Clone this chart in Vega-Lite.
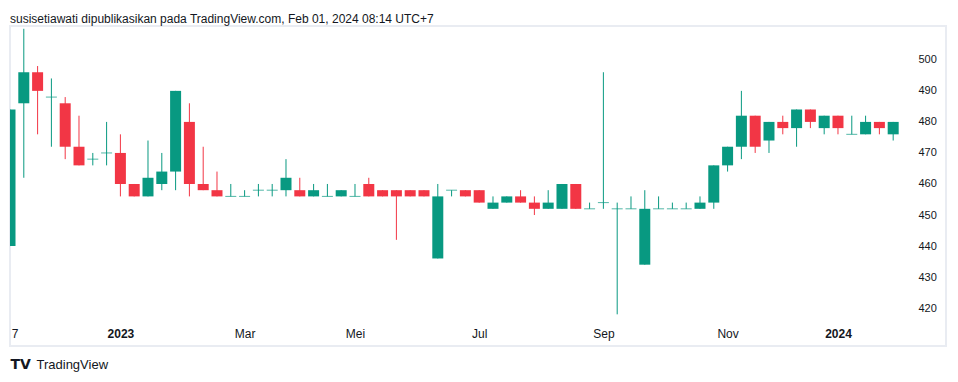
{
  "$schema": "https://vega.github.io/schema/vega-lite/v6.json",
  "autosize": {"type": "none"},
  "padding": {"left": 10, "top": 26, "right": 12, "bottom": 36},
  "width": 936,
  "height": 320,
  "background": "#ffffff",
  "title": {
    "text": "susisetiawati dipublikasikan pada TradingView.com, Feb 01, 2024 08:14 UTC+7",
    "anchor": "start",
    "frame": "group",
    "offset": 7,
    "dy": 16,
    "baseline": "alphabetic",
    "font": "Liberation Sans, Arial, sans-serif",
    "fontSize": 12,
    "fontWeight": "normal",
    "color": "#131722"
  },
  "config": {
    "view": {"stroke": "#e9ecf2", "strokeWidth": 2},
    "axis": {"grid": false, "domain": false, "ticks": false, "tickSize": 0}
  },
  "data": {
    "values": [
      {"date": "2022-11-07", "open": 440, "high": 484, "low": 440, "close": 484},
      {"date": "2022-11-14", "open": 486, "high": 510, "low": 462, "close": 496},
      {"date": "2022-11-21", "open": 496, "high": 498, "low": 476, "close": 490},
      {"date": "2022-11-28", "open": 488, "high": 494, "low": 472, "close": 488},
      {"date": "2022-12-05", "open": 486, "high": 488, "low": 468, "close": 472},
      {"date": "2022-12-12", "open": 472, "high": 482, "low": 466, "close": 466},
      {"date": "2022-12-19", "open": 468, "high": 470, "low": 466, "close": 468},
      {"date": "2022-12-26", "open": 470, "high": 480, "low": 466, "close": 470},
      {"date": "2023-01-02", "open": 470, "high": 476, "low": 456, "close": 460},
      {"date": "2023-01-09", "open": 460, "high": 460, "low": 456, "close": 456},
      {"date": "2023-01-16", "open": 456, "high": 474, "low": 456, "close": 462},
      {"date": "2023-01-23", "open": 460, "high": 470, "low": 458, "close": 464},
      {"date": "2023-01-30", "open": 464, "high": 490, "low": 458, "close": 490},
      {"date": "2023-02-06", "open": 480, "high": 486, "low": 456, "close": 460},
      {"date": "2023-02-13", "open": 460, "high": 472, "low": 458, "close": 458},
      {"date": "2023-02-20", "open": 458, "high": 464, "low": 456, "close": 456},
      {"date": "2023-02-27", "open": 456, "high": 460, "low": 456, "close": 456},
      {"date": "2023-03-06", "open": 456, "high": 458, "low": 456, "close": 456},
      {"date": "2023-03-13", "open": 458, "high": 460, "low": 456, "close": 458},
      {"date": "2023-03-20", "open": 458, "high": 460, "low": 456, "close": 458},
      {"date": "2023-03-27", "open": 458, "high": 468, "low": 456, "close": 462},
      {"date": "2023-04-03", "open": 458, "high": 462, "low": 456, "close": 456},
      {"date": "2023-04-10", "open": 456, "high": 460, "low": 456, "close": 458},
      {"date": "2023-04-17", "open": 456, "high": 460, "low": 456, "close": 456},
      {"date": "2023-04-24", "open": 456, "high": 458, "low": 456, "close": 458},
      {"date": "2023-05-01", "open": 456, "high": 460, "low": 456, "close": 456},
      {"date": "2023-05-08", "open": 460, "high": 462, "low": 456, "close": 456},
      {"date": "2023-05-15", "open": 458, "high": 458, "low": 456, "close": 456},
      {"date": "2023-05-22", "open": 458, "high": 458, "low": 442, "close": 456},
      {"date": "2023-05-29", "open": 458, "high": 458, "low": 456, "close": 456},
      {"date": "2023-06-05", "open": 458, "high": 458, "low": 456, "close": 456},
      {"date": "2023-06-12", "open": 436, "high": 460, "low": 436, "close": 456},
      {"date": "2023-06-19", "open": 458, "high": 458, "low": 456, "close": 458},
      {"date": "2023-06-26", "open": 458, "high": 458, "low": 456, "close": 456},
      {"date": "2023-07-03", "open": 458, "high": 458, "low": 454, "close": 454},
      {"date": "2023-07-10", "open": 452, "high": 456, "low": 452, "close": 454},
      {"date": "2023-07-17", "open": 454, "high": 456, "low": 454, "close": 456},
      {"date": "2023-07-24", "open": 456, "high": 458, "low": 454, "close": 454},
      {"date": "2023-07-31", "open": 454, "high": 456, "low": 450, "close": 452},
      {"date": "2023-08-07", "open": 452, "high": 458, "low": 452, "close": 454},
      {"date": "2023-08-14", "open": 452, "high": 460, "low": 452, "close": 460},
      {"date": "2023-08-21", "open": 460, "high": 460, "low": 452, "close": 452},
      {"date": "2023-08-28", "open": 452, "high": 454, "low": 452, "close": 452},
      {"date": "2023-09-04", "open": 454, "high": 496, "low": 452, "close": 454},
      {"date": "2023-09-11", "open": 452, "high": 454, "low": 418, "close": 452},
      {"date": "2023-09-18", "open": 452, "high": 456, "low": 452, "close": 452},
      {"date": "2023-09-25", "open": 434, "high": 458, "low": 434, "close": 452},
      {"date": "2023-10-02", "open": 452, "high": 456, "low": 452, "close": 452},
      {"date": "2023-10-09", "open": 452, "high": 454, "low": 452, "close": 452},
      {"date": "2023-10-16", "open": 452, "high": 454, "low": 452, "close": 452},
      {"date": "2023-10-23", "open": 452, "high": 456, "low": 452, "close": 454},
      {"date": "2023-10-30", "open": 454, "high": 466, "low": 452, "close": 466},
      {"date": "2023-11-06", "open": 466, "high": 472, "low": 464, "close": 472},
      {"date": "2023-11-13", "open": 472, "high": 490, "low": 468, "close": 482},
      {"date": "2023-11-20", "open": 482, "high": 482, "low": 470, "close": 472},
      {"date": "2023-11-27", "open": 474, "high": 480, "low": 470, "close": 480},
      {"date": "2023-12-04", "open": 480, "high": 482, "low": 476, "close": 478},
      {"date": "2023-12-11", "open": 478, "high": 484, "low": 472, "close": 484},
      {"date": "2023-12-18", "open": 484, "high": 484, "low": 478, "close": 480},
      {"date": "2023-12-25", "open": 478, "high": 482, "low": 476, "close": 482},
      {"date": "2024-01-01", "open": 482, "high": 482, "low": 476, "close": 478},
      {"date": "2024-01-08", "open": 476, "high": 482, "low": 476, "close": 476},
      {"date": "2024-01-15", "open": 476, "high": 482, "low": 476, "close": 480},
      {"date": "2024-01-22", "open": 480, "high": 480, "low": 476, "close": 478},
      {"date": "2024-01-29", "open": 476, "high": 480, "low": 474, "close": 480}
    ]
  },
  "encoding": {
    "x": {
      "field": "date",
      "type": "temporal",
      "scale": {
        "type": "utc",
        "padding": 0,
        "domain": [
          {"year": 2022, "month": 11, "date": 7, "utc": true},
          {"year": 2024, "month": 2, "date": 24, "hours": 19, "utc": true}
        ]
      },
      "axis": {
        "orient": "bottom",
        "values": [
          {"year": 2022, "month": 11, "date": 9, "hours": 8, "utc": true},
          {"year": 2023, "month": 1, "date": 2, "utc": true},
          {"year": 2023, "month": 3, "date": 6, "utc": true},
          {"year": 2023, "month": 5, "date": 1, "utc": true},
          {"year": 2023, "month": 7, "date": 3, "utc": true},
          {"year": 2023, "month": 9, "date": 4, "utc": true},
          {"year": 2023, "month": 11, "date": 6, "utc": true},
          {"year": 2024, "month": 1, "date": 1, "utc": true}
        ],
        "labelExpr": "utcyear(datum.value) == 2022 ? '7' : (utcmonth(datum.value) == 0 ? utcFormat(datum.value, '%Y') : ['Jan','Feb','Mar','Apr','Mei','Jun','Jul','Agu','Sep','Okt','Nov','Des'][utcmonth(datum.value)])",
        "labelFontWeight": {"condition": {"test": "utcmonth(datum.value) == 0", "value": "bold"}, "value": "normal"},
        "labelFont": "Liberation Sans, Arial, sans-serif",
        "labelFontSize": 12,
        "labelColor": "#131722",
        "labelBaseline": "middle",
        "labelPadding": -13,
        "labelOverlap": false,
        "labelFlush": false,
        "labelBound": false,
        "title": "TradingView",
        "titleFont": "Liberation Sans, Arial, sans-serif",
        "titleFontSize": 13,
        "titleFontWeight": "normal",
        "titleColor": "#131722",
        "titleAnchor": "start",
        "titleAlign": "left",
        "titleBaseline": "middle",
        "titleX": 26,
        "titleY": 18
      }
    },
    "y": {
      "field": "low",
      "type": "quantitative",
      "scale": {"domain": [407.8, 510.9], "nice": false, "zero": false},
      "axis": {
        "orient": "right",
        "values": [420, 430, 440, 450, 460, 470, 480, 490, 500],
        "labelOverlap": false,
        "labelAlign": "left",
        "labelPadding": -28,
        "labelFont": "Liberation Sans, Arial, sans-serif",
        "labelFontSize": 11,
        "labelColor": "#131722",
        "title": "TV",
        "titleAngle": 0,
        "titleFont": "DejaVu Sans, sans-serif",
        "titleFontSize": 14,
        "titleFontWeight": 900,
        "titleColor": "#131722",
        "titleAlign": "left",
        "titleBaseline": "middle",
        "titleX": -936,
        "titleY": 338
      }
    },
    "color": {"condition": {"test": "datum.close >= datum.open", "value": "#089981"}, "value": "#f23645"}
  },
  "layer": [
    {
      "mark": {"type": "rule", "strokeWidth": 1, "clip": true},
      "encoding": {
        "y2": {"field": "high"}
      }
    },
    {
      "mark": {"type": "bar", "width": 11, "clip": true},
      "encoding": {
        "y": {"field": "open", "type": "quantitative"},
        "y2": {"field": "close"}
      }
    },
    {
      "transform": [{"filter": "datum.open == datum.close"}],
      "mark": {"type": "tick", "orient": "horizontal", "size": 11, "thickness": 1, "clip": true},
      "encoding": {
        "y": {"field": "open", "type": "quantitative"}
      }
    }
  ]
}
